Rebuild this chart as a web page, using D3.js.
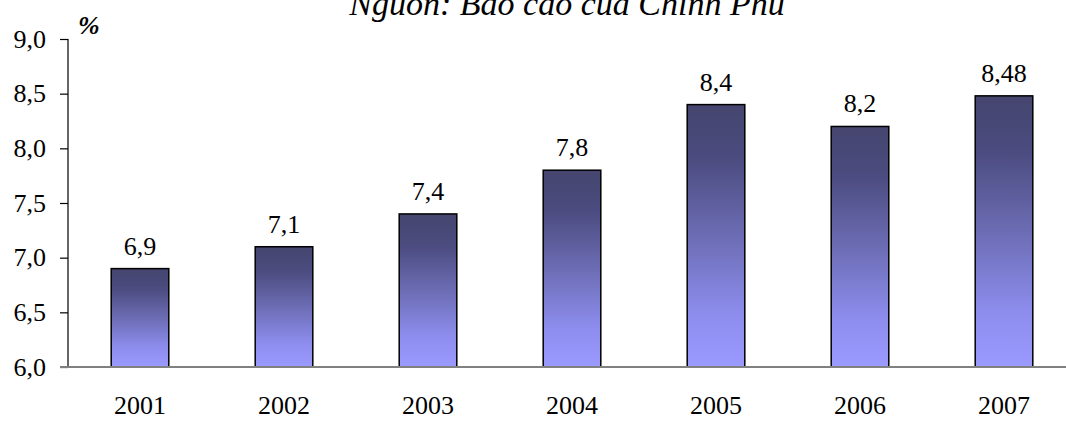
<!DOCTYPE html>
<html>
<head>
<meta charset="utf-8">
<script src="https://cdn.jsdelivr.net/npm/d3@7"></script>
<style>
  html, body { margin: 0; padding: 0; background: #fff; }
  svg { display: block; }
  text { font-family: "Liberation Serif", "Times New Roman", serif; fill: #000; }
</style>
</head>
<body>
<div id="chart"></div>
<script>
// Annual growth rate, 2001–2007 (%)
const years = ["2001", "2002", "2003", "2004", "2005", "2006", "2007"];
const growth = [6.9, 7.1, 7.4, 7.8, 8.4, 8.2, 8.48];
const yTicks = [6.0, 6.5, 7.0, 7.5, 8.0, 8.5, 9.0];
const titleText = "Nguồn: Báo cáo của Chính Phủ";
const unitText = "%";

const W = 1066, H = 421;
const svg = d3.select("#chart").append("svg")
  .attr("width", W).attr("height", H);

const fmt = v => String(v).includes(".") ? String(v).replace(".", ",") : v.toFixed(1).replace(".", ",");
const fmtTick = v => v.toFixed(1).replace(".", ",");

const x = d3.scaleBand()
  .domain(years)
  .range([68, 1076])
  .paddingInner(0.6)
  .paddingOuter(0.3);

const y = d3.scaleLinear()
  .domain([6, 9])
  .range([367, 39]);

// vertical gradient fill for each bar
const defs = svg.append("defs");
const grad = defs.append("linearGradient")
  .attr("id", "barFill")
  .attr("x1", 0).attr("y1", 0).attr("x2", 0).attr("y2", 1);
[[0, "#45456f"], [0.2, "#4b4b7f"], [0.5, "#6c6cb4"], [0.8, "#8d8dee"], [1, "#9a9aff"]]
  .forEach(([o, c]) => grad.append("stop").attr("offset", o).attr("stop-color", c));

// title (partly clipped by the top edge)
svg.append("text")
  .attr("x", 567).attr("y", 15)
  .attr("text-anchor", "middle")
  .style("font-size", "34px")
  .style("font-style", "italic")
  .text(titleText);

// unit label
svg.append("text")
  .attr("x", 78).attr("y", 34)
  .style("font-size", "26px")
  .style("font-style", "italic")
  .style("font-weight", "bold")
  .text(unitText);

// y axis
const yAxis = d3.axisLeft(y)
  .tickValues(yTicks)
  .tickFormat(fmtTick)
  .tickSize(8)
  .tickPadding(14);
const gy = svg.append("g")
  .attr("transform", "translate(68,0)")
  .call(yAxis);
gy.select(".domain").attr("stroke", "#000").attr("stroke-width", 1.2).attr("d", "M0,39V367");
gy.selectAll(".tick line").attr("stroke", "#000").attr("stroke-width", 1.2);
gy.selectAll(".tick text")
  .style("font-size", "26px")
  .style("font-family", "'Liberation Serif', 'Times New Roman', serif")
  .attr("fill", "#000");

// bars
svg.append("g").selectAll("rect")
  .data(years)
  .join("rect")
  .attr("x", d => x(d))
  .attr("width", x.bandwidth())
  .attr("y", (d, i) => y(growth[i]))
  .attr("height", (d, i) => y(6) - y(growth[i]))
  .attr("fill", "url(#barFill)")
  .attr("stroke", "#000")
  .attr("stroke-width", 1.5);

// baseline
svg.append("line")
  .attr("x1", 60).attr("x2", W)
  .attr("y1", y(6)).attr("y2", y(6))
  .attr("stroke", "#808080")
  .attr("stroke-width", 2);

// value labels
svg.append("g").selectAll("text")
  .data(years)
  .join("text")
  .attr("x", d => x(d) + x.bandwidth() / 2)
  .attr("y", (d, i) => y(growth[i]) - 14)
  .attr("text-anchor", "middle")
  .style("font-size", "26px")
  .text((d, i) => fmt(growth[i]));

// category labels
const xAxis = d3.axisBottom(x).tickSize(0).tickPadding(0);
const gx = svg.append("g")
  .attr("transform", `translate(0,${y(6)})`)
  .call(xAxis);
gx.select(".domain").remove();
gx.selectAll(".tick text")
  .attr("y", 0)
  .attr("dy", 0)
  .attr("transform", "translate(0,47)")
  .style("font-size", "26px")
  .style("font-family", "'Liberation Serif', 'Times New Roman', serif")
  .attr("fill", "#000");
</script>
</body>
</html>
